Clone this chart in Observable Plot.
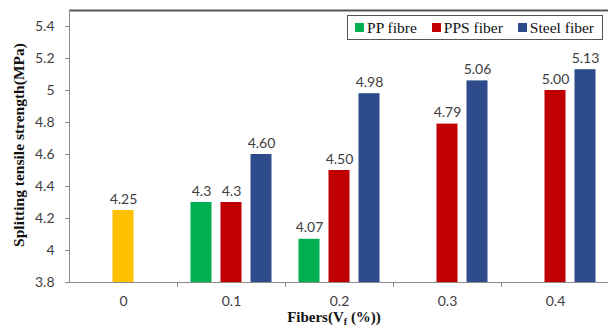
<!DOCTYPE html>
<html>
<head>
<meta charset="utf-8">
<script src="https://cdn.jsdelivr.net/npm/d3@7"></script>
<script src="https://cdn.jsdelivr.net/npm/@observablehq/plot@0.6"></script>
<style>
  html, body { margin: 0; padding: 0; background: #fff; }
  #wrap { position: relative; width: 608px; height: 326px; overflow: hidden; }
  #chart svg { display: block; }
  .ytitle { position: absolute; left: 19px; top: 145px; transform: translate(-50%, -50%) rotate(-90deg);
    font: bold 15.5px "Liberation Serif", "Times New Roman", serif; color: #111; white-space: nowrap; }
  .xtitle { position: absolute; left: 334px; top: 309px; transform: translateX(-50%); line-height: 15px;
    font: bold 15px "Liberation Serif", "Times New Roman", serif; color: #111; white-space: nowrap; }
  .xtitle sub { font-size: 10px; vertical-align: -3px; line-height: 0; }
  .legend { position: absolute; right: 5px; top: 15px; height: 25px; box-sizing: border-box;
    border: 1px solid #555; background: #fff; display: flex; align-items: center; padding: 0 8px 0 7px; gap: 15px;
    font: 15.5px "Liberation Serif", "Times New Roman", serif; color: #111; white-space: nowrap; }
  .legend .item { display: flex; align-items: center; gap: 3px; }
  .legend .sw { width: 9px; height: 9px; display: inline-block; }
</style>
</head>
<body>
<div id="wrap">
  <div id="chart"></div>
  <div class="ytitle">Splitting tensile strength(MPa)</div>
  <div class="xtitle">Fibers(V<sub>f</sub> (%))</div>
  <div class="legend" id="legend"></div>
</div>
<script>
// ---- data ----
const categories = ["0", "0.1", "0.2", "0.3", "0.4"];
const seriesNames = ["Plain", "PP fibre", "PPS fiber", "Steel fiber"];
const plainValues = [4.25, null, null, null, null];
const ppValues    = [null, 4.3, 4.07, null, null];
const ppsValues   = [null, 4.3, 4.50, 4.79, 5.00];
const steelValues = [null, 4.60, 4.98, 5.06, 5.13];
const plainLabels = ["4.25", null, null, null, null];
const ppLabels    = [null, "4.3", "4.07", null, null];
const ppsLabels   = [null, "4.3", "4.50", "4.79", "5.00"];
const steelLabels = [null, "4.60", "4.98", "5.06", "5.13"];
const yTicks = [3.8, 4, 4.2, 4.4, 4.6, 4.8, 5, 5.2, 5.4];
const yTickLabels = ["3.8", "4", "4.2", "4.4", "4.6", "4.8", "5", "5.2", "5.4"];
const legendSeries = ["PP fibre", "PPS fiber", "Steel fiber"];

// ---- styling / layout ----
const colors = {"Plain": "#FFC000", "PP fibre": "#00B050", "PPS fiber": "#C00000", "Steel fiber": "#2E4C8C"};
const slot = {"Plain": 0, "PP fibre": -1, "PPS fiber": 0, "Steel fiber": 1};
const SLOT = 30 / 108, HALF = 10.5 / 108;

const valueArrays = [plainValues, ppValues, ppsValues, steelValues];
const labelArrays = [plainLabels, ppLabels, ppsLabels, steelLabels];
const rows = [];
valueArrays.forEach((arr, s) => arr.forEach((v, i) => {
  if (v != null) rows.push({cat: i, series: seriesNames[s], value: v, label: labelArrays[s][i]});
}));
const center = d => d.cat + slot[d.series] * SLOT;

const font = 'Lato, "Open Sans", sans-serif';
const chart = Plot.plot({
  width: 608,
  height: 326,
  marginLeft: 69,
  marginRight: 0,
  marginTop: 10,
  marginBottom: 44,
  style: {fontFamily: font, fontSize: "14px", color: "#404040", background: "#fff"},
  x: {domain: [-0.5, 4.5], range: [69, 609], axis: null},
  y: {domain: [3.8, 5.5], axis: null},
  color: {domain: seriesNames, range: seriesNames.map(s => colors[s])},
  marks: [
    Plot.rectY(rows, {x1: d => center(d) - HALF, x2: d => center(d) + HALF, y1: 3.8, y2: "value", fill: "series"}),
    Plot.text(rows, {x: center, y: "value", text: "label", lineAnchor: "bottom", dy: -7,
      fill: "#404040", fontSize: 14, fontFamily: font}),
    Plot.ruleY([3.8], {stroke: "#8c8c8c", strokeWidth: 1}),
    Plot.ruleY([5.5], {stroke: "#555", strokeWidth: 2}),
    Plot.ruleX([-0.5], {stroke: "#8c8c8c", strokeWidth: 1}),
    Plot.axisY({ticks: yTicks, tickSize: 4, tickPadding: 11, stroke: "#8c8c8c",
      tickFormat: d => yTickLabels[yTicks.indexOf(d)], label: null, fill: "#404040"}),
    Plot.axisX({ticks: [0.5, 1.5, 2.5, 3.5], tickSize: 5, tickFormat: () => "", label: null, stroke: "#8c8c8c"}),
    Plot.axisX({ticks: [0, 1, 2, 3, 4], tickSize: 0, tickPadding: 14, tickFormat: i => categories[i],
      label: null, fill: "#404040"})
  ]
});
document.getElementById("chart").appendChild(chart);

const legend = document.getElementById("legend");
legendSeries.forEach(s => {
  const item = document.createElement("span");
  item.className = "item";
  const sw = document.createElement("span");
  sw.className = "sw";
  sw.style.background = colors[s];
  const t = document.createElement("span");
  t.textContent = s;
  item.appendChild(sw);
  item.appendChild(t);
  legend.appendChild(item);
});
</script>
</body>
</html>
